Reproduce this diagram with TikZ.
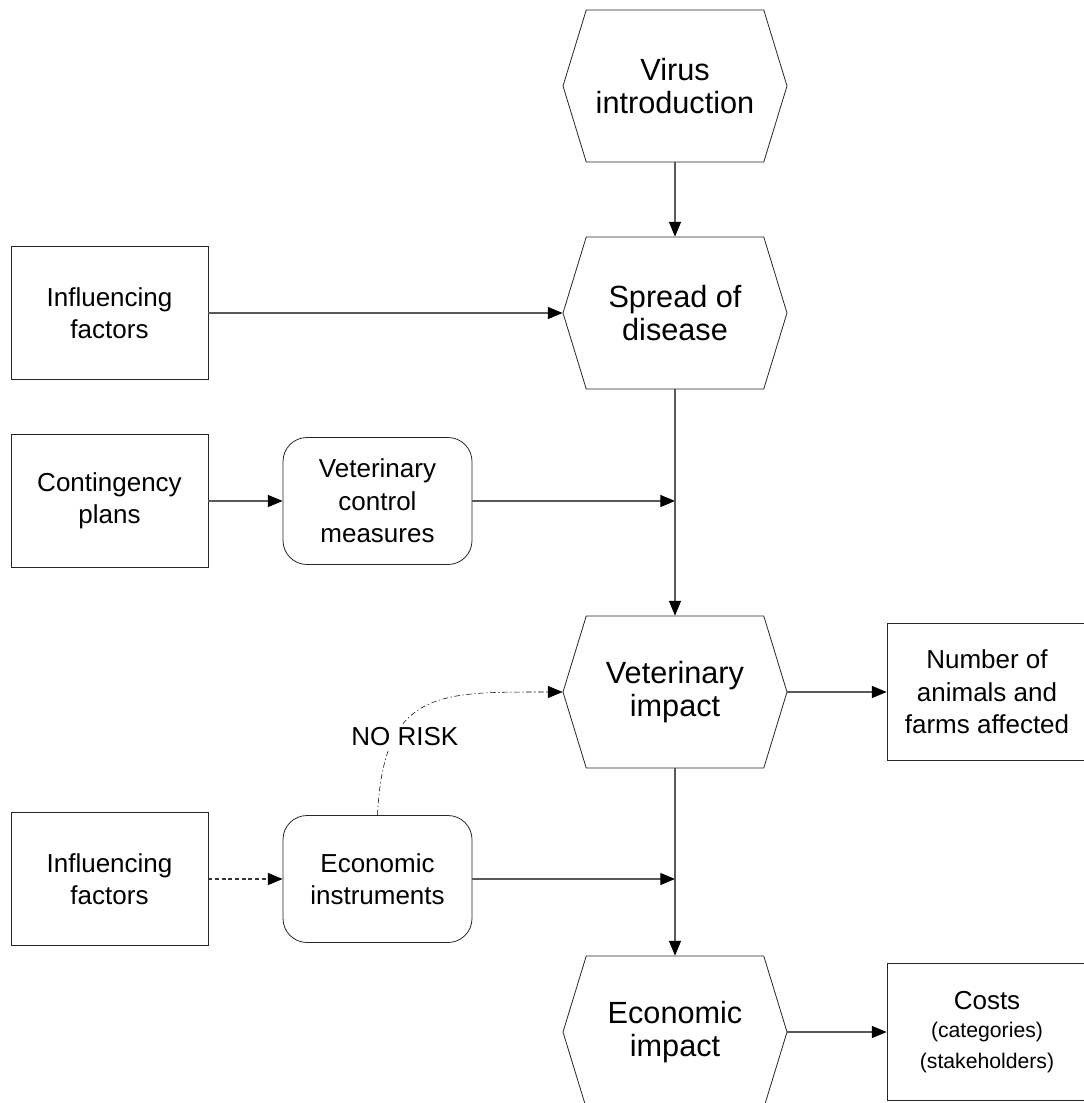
\documentclass[tikz,border=0pt]{standalone}
\usepackage{fontspec}
\setmainfont{Liberation Sans}
\usetikzlibrary{shapes.symbols,arrows.meta}
\tikzset{
  hexbox/.style={shape=signal, signal to=east and west, signal pointer angle=146,
    draw=black!85, line width=0.6pt, minimum width=168pt, minimum height=114pt,
    inner sep=0pt, align=center, font=\fontsize{23}{24.5}\selectfont},
  factorbox/.style={draw=black!85, line width=0.6pt, minimum width=147.75pt,
    minimum height=99.75pt, align=center, font=\fontsize{19.5}{24.4}\selectfont},
  measurebox/.style={factorbox, rounded corners=18pt, minimum width=141.75pt,
    minimum height=95.25pt},
  resultbox/.style={factorbox, minimum width=150pt, minimum height=103pt},
  arr/.style={draw=black!65, line width=0.8pt,
    -{Triangle[length=11pt,width=9pt,color=black]}},
  riskline/.style={arr, draw=black, line width=0.4pt,
    dash pattern=on 4pt off 2pt on 1pt off 2pt}
}
\begin{document}
\begin{tikzpicture}[x=0.75pt,y=-0.75pt]
\clip (0,0) rectangle (1084,1103);

\node[hexbox] (virus) at (675,86) {Virus\\introduction};
\node[hexbox] (spread) at (675,313) {Spread of\\disease};
\node[hexbox] (vetimp) at (675,692) {Veterinary\\impact};
\node[hexbox] (econimp) at (675,1032) {Economic\\impact};

\node[factorbox] (infl1) at (109.5,313) {Influencing\\factors};
\node[factorbox] (cont) at (109.5,501) {Contingency\\plans};
\node[factorbox] (infl2) at (109.5,879) {Influencing\\factors};

\node[measurebox] (vcm) at (377.5,501) {Veterinary\\control\\measures};
\node[measurebox] (econinst) at (377.5,879) {Economic\\instruments};

\node[resultbox] (animals) at (987,692) {Number of\\animals and\\farms affected};
\node[resultbox] (costs) at (987,1032)
  {Costs\\[-3pt]{\fontsize{15.9}{22}\selectfont (categories)}\\[-1pt]{\fontsize{15.9}{22}\selectfont (stakeholders)}};

\coordinate (j1) at (spread.south |- vcm.east);
\coordinate (j2) at (vetimp.south |- econinst.east);

\draw[arr] (virus.south) -- (spread.north);
\draw[arr] (infl1.east) -- (spread.west);
\draw[arr] (cont.east) -- (vcm.west);
\draw[arr] (vcm.east) -- (j1);
\draw[arr] (spread.south) -- (vetimp.north);
\draw[arr] (vetimp.east) -- (animals.west);
\draw[arr, densely dashed, draw=black!80] (infl2.east) -- (econinst.west);
\draw[arr] (econinst.east) -- (j2);
\draw[arr] (vetimp.south) -- (econimp.north);
\draw[arr] (econimp.east) -- (costs.west);

\draw[riskline] (econinst.north) .. controls +(6,-126) and +(-123,0) .. (vetimp.west)
  node[pos=0.3, fill=white, inner sep=2pt, xshift=6pt, yshift=-3pt,
    font=\fontsize{19.5}{24.4}\selectfont] {NO RISK};
\end{tikzpicture}
\end{document}
